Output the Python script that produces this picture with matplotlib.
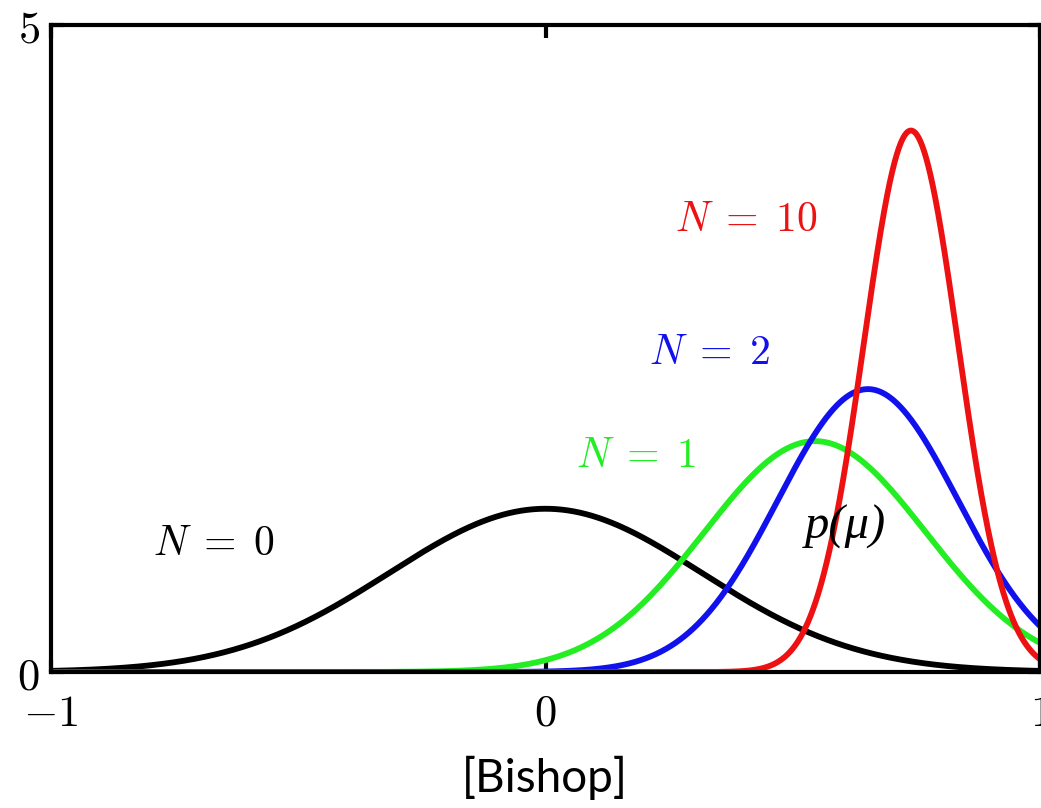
import numpy as np
import matplotlib
matplotlib.use("Agg")
import matplotlib.pyplot as plt

plt.rcParams["mathtext.fontset"] = "cm"
plt.rcParams["font.family"] = "serif"
plt.rcParams["font.serif"] = ["DejaVu Serif"]

# Posterior over the mean after N observations (Gaussian, known variance)
labels = [r"$N\;=\;0$", r"$N\;=\;1$", r"$N\;=\;2$", r"$N\;=\;10$"]
means = [0.0, 0.545, 0.652, 0.739]
variances = [0.1, 0.05, 0.0333, 0.00909]
colors = ["#000000", "#22ee22", "#1111ee", "#ee1111"]
label_pos = [(-0.67, 1.0), (0.183, 1.68), (0.333, 2.47), (0.407, 3.5)]

x_ticks = [-1, 0, 1]
x_tick_labels = ["$-1$", "$0$", "$1$"]
y_ticks = [0, 5]
y_tick_labels = ["$0$", "$5$"]

W, H = 1041, 808
fig = plt.figure(figsize=(W / 100, H / 100), dpi=100)
ax = fig.add_axes([51 / W, 136 / H, 989 / W, 647 / H])

mu = np.linspace(-1, 1, 2001)
for m, v, c in zip(means, variances, colors):
    pdf = np.exp(-(mu - m) ** 2 / (2 * v)) / np.sqrt(2 * np.pi * v)
    ax.plot(mu, pdf, color=c, lw=4.2, solid_capstyle="butt", clip_on=True)

for lab, (lx, ly), c in zip(labels, label_pos, colors):
    ax.text(lx, ly, lab, color=c, fontsize=30, ha="center", va="center")

ax.text(0.606, 1.12, "p(μ)", fontsize=35, ha="center", va="center",
        family="Liberation Serif", style="italic")

ax.set_xlim(-1, 1)
ax.set_ylim(0, 5)
ax.set_xticks(x_ticks)
ax.set_xticklabels(x_tick_labels)
ax.set_yticks(y_ticks)
ax.set_yticklabels(y_tick_labels)
ax.tick_params(direction="in", length=9, width=3, labelsize=32,
               top=True, right=True)
ax.tick_params(axis="x", pad=14)
ax.tick_params(axis="y", pad=8)
for s in ax.spines.values():
    s.set_linewidth(3)

fig.text(545 / W, 1 - 778 / H, "[Bishop]", fontsize=33, family="Lato",
         ha="center", va="center")

fig.savefig("out.png", dpi=100)
